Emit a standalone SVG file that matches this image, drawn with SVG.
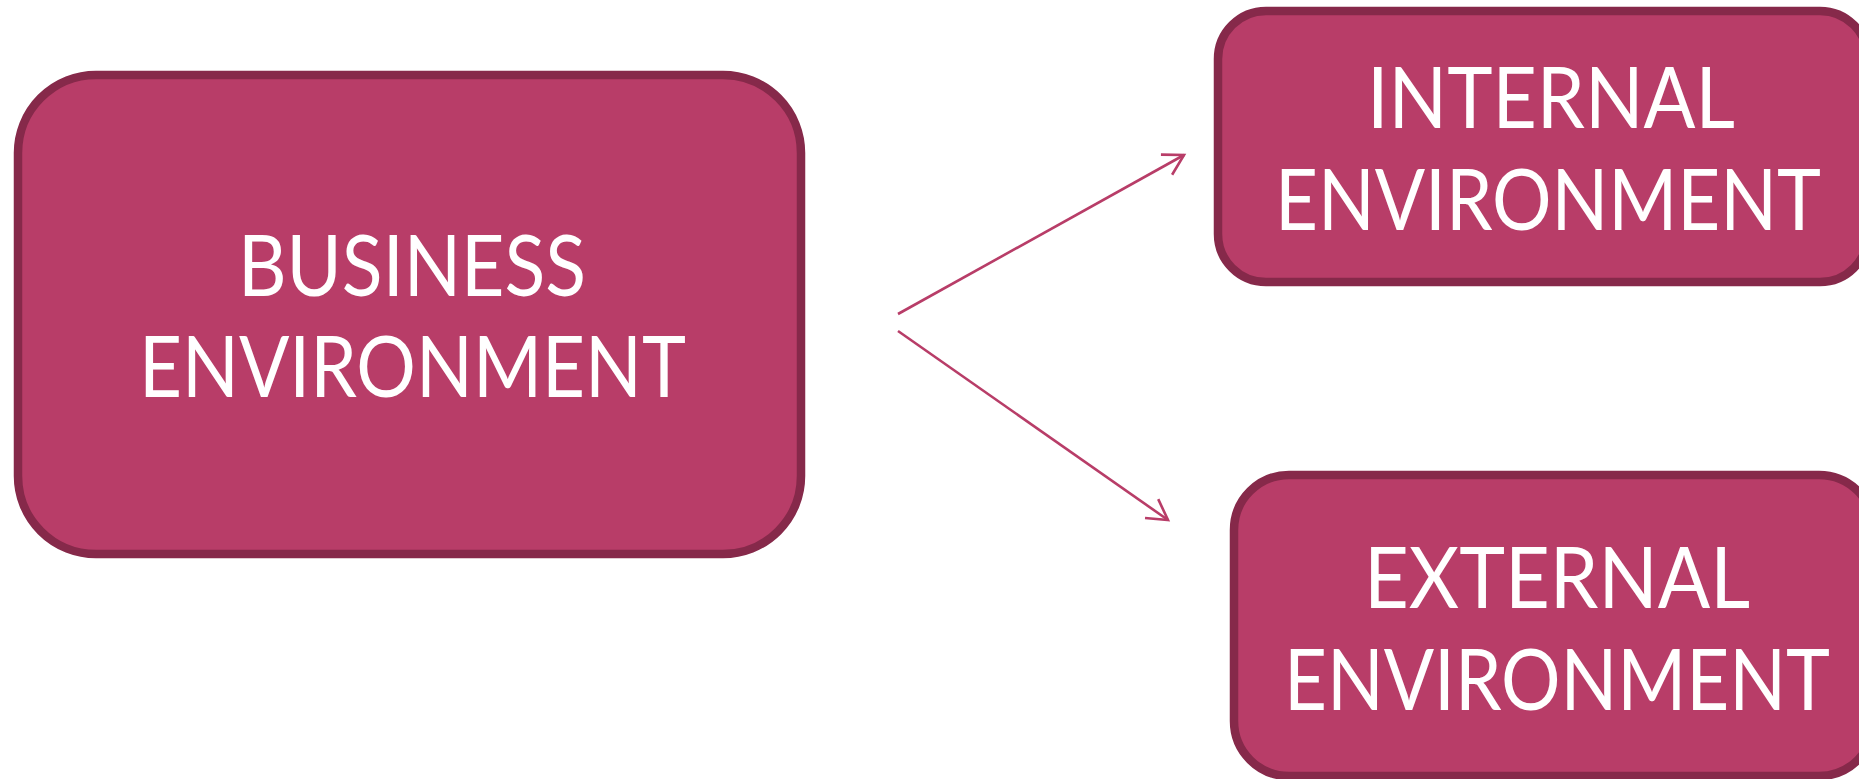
<svg xmlns="http://www.w3.org/2000/svg" width="1859" height="779" viewBox="0 0 1859 779">
  <defs>
    <style>
      .box { fill: #b83d68; stroke: #86294a; stroke-width: 8.5; }
      .lbl { fill: #ffffff; font-family: Lato, "Open Sans", "Liberation Sans", sans-serif; font-size: 86px; }
      .conn { fill: none; stroke: #b83d68; stroke-width: 2.6; }
    </style>
    <marker id="arrow" markerUnits="userSpaceOnUse" markerWidth="40" markerHeight="40" refX="0" refY="0" viewBox="-30 -20 40 40" orient="auto">
      <path d="M-20,-11.5 L0,0 L-20,11.5" fill="none" stroke="#b83d68" stroke-width="2.6"/>
    </marker>
  </defs>
  <rect width="1859" height="779" fill="#ffffff"/>
  <g id="business">
    <rect class="box" x="18" y="75" width="783" height="479" rx="78" ry="78"/>
    <text class="lbl" x="238" y="296" textLength="348" lengthAdjust="spacingAndGlyphs">BUSINESS</text>
    <text class="lbl" x="139" y="397" textLength="547" lengthAdjust="spacingAndGlyphs">ENVIRONMENT</text>
  </g>
  <g id="internal">
    <rect class="box" x="1218" y="11" width="650" height="271" rx="48" ry="48"/>
    <text class="lbl" x="1367" y="128" textLength="368" lengthAdjust="spacingAndGlyphs">INTERNAL</text>
    <text class="lbl" x="1275" y="230" textLength="546" lengthAdjust="spacingAndGlyphs">ENVIRONMENT</text>
  </g>
  <g id="external">
    <rect class="box" x="1234" y="475" width="640" height="301" rx="55" ry="55"/>
    <text class="lbl" x="1364" y="608" textLength="386" lengthAdjust="spacingAndGlyphs">EXTERNAL</text>
    <text class="lbl" x="1284" y="710" textLength="546" lengthAdjust="spacingAndGlyphs">ENVIRONMENT</text>
  </g>
  <g id="connectors">
    <line class="conn" x1="898" y1="314" x2="1184" y2="155" marker-end="url(#arrow)"/>
    <line class="conn" x1="898" y1="331" x2="1168" y2="520" marker-end="url(#arrow)"/>
  </g>
</svg>
